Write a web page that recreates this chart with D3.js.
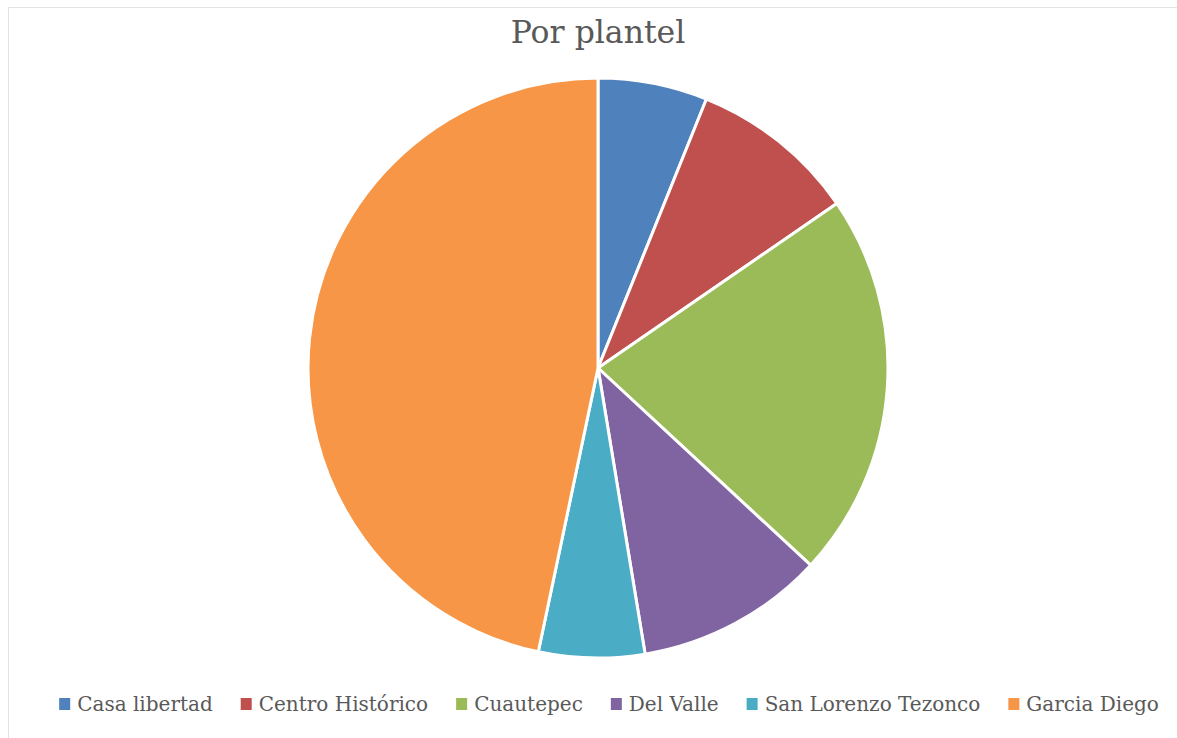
<!DOCTYPE html>
<html>
<head>
<meta charset="utf-8">
<script src="https://cdn.jsdelivr.net/npm/d3@7"></script>
<style>
  body { margin: 0; background: #fff; }
  svg { display: block; }
</style>
</head>
<body>
<svg id="chart" width="1177" height="738"></svg>
<script>
// data (shares, in %)
var categories = ["Casa libertad", "Centro Histórico", "Cuautepec", "Del Valle", "San Lorenzo Tezonco", "Garcia Diego"];
var values = [6.1, 9.3, 21.5, 10.5, 5.9, 46.7];
var colors = ["#4f81bd", "#c0504d", "#9bbb59", "#8064a2", "#4bacc6", "#f79646"];
var title = "Por plantel";

var svg = d3.select("#chart");
var font = "'DejaVu Serif', serif";

// faint chart-area border
svg.append("rect")
    .attr("x", 8.5).attr("y", 7.5)
    .attr("width", 1177 - 8).attr("height", 738 - 4)
    .attr("fill", "none")
    .attr("stroke", "#e3e3e3");

svg.append("text")
    .attr("x", 598).attr("y", 43)
    .attr("text-anchor", "middle")
    .style("font-family", font)
    .style("font-size", "31.5px")
    .attr("fill", "#595959")
    .text(title);

var pieData = categories.map(function(c, i){ return {name: c, value: values[i], color: colors[i]}; });

var pie = d3.pie().sort(null).value(function(d){ return d.value; });
var arc = d3.arc().innerRadius(0).outerRadius(290);

var g = svg.append("g").attr("transform", "translate(598,368)");
g.selectAll("path").data(pie(pieData)).enter()
    .append("path")
    .attr("d", arc)
    .attr("fill", function(d){ return d.data.color; })
    .attr("stroke", "#fff")
    .attr("stroke-width", 3)
    .attr("stroke-linejoin", "round");

// legend, centred under the pie
var legend = svg.append("g");
var items = legend.selectAll("g").data(pieData).enter().append("g");
items.append("rect")
    .attr("width", 11).attr("height", 12)
    .attr("y", -13)
    .attr("fill", function(d){ return d.color; });
items.append("text")
    .attr("x", 18)
    .style("font-family", font)
    .style("font-size", "20px")
    .attr("fill", "#595959")
    .text(function(d){ return d.name; });

var gap = 28, xpos = 0;
items.each(function(){
    var w = this.querySelector("text").getComputedTextLength() + 18;
    d3.select(this).attr("transform", "translate(" + xpos + ",0)");
    xpos += w + gap;
});
var totalW = xpos - gap;
legend.attr("transform", "translate(" + (609 - totalW / 2) + ",711)");
</script>
</body>
</html>
